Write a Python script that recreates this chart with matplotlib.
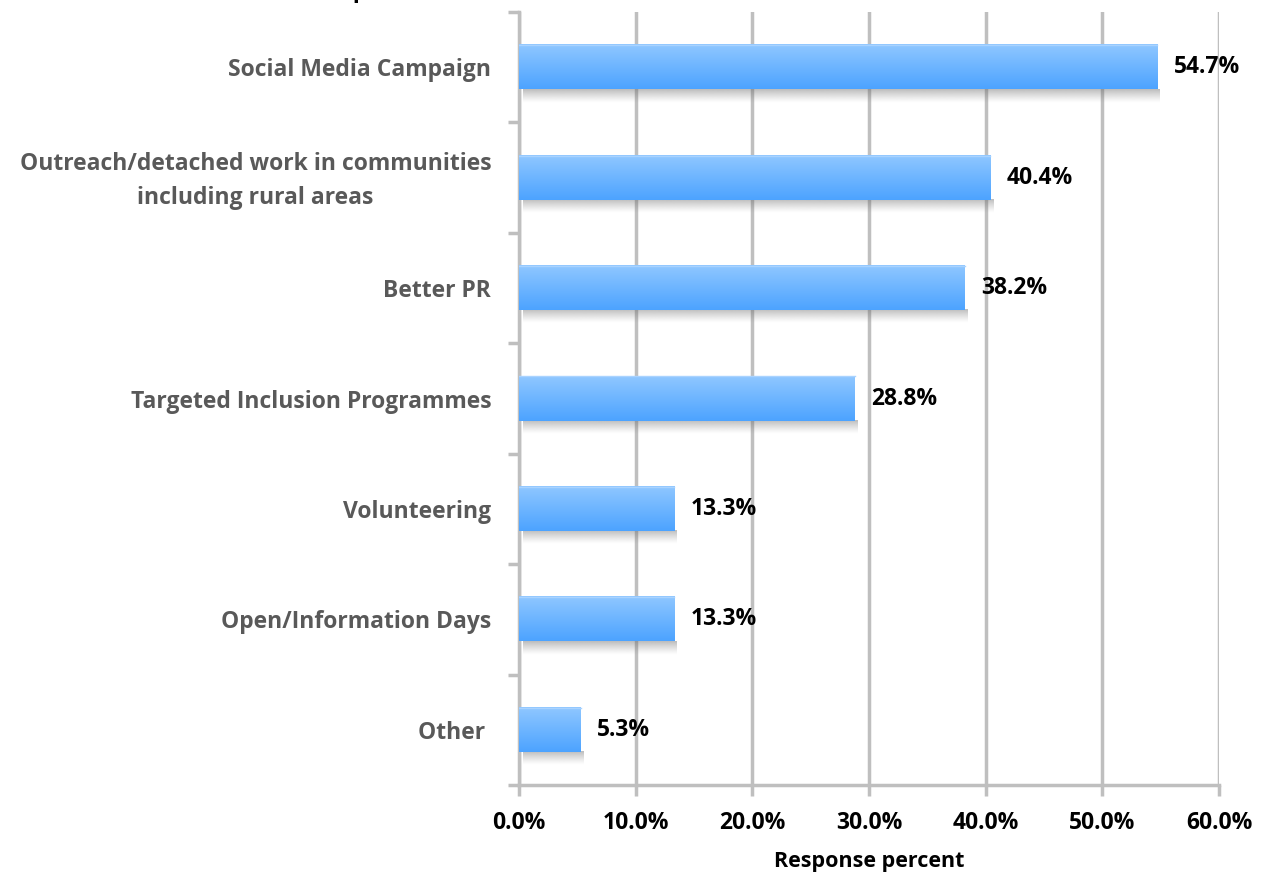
import numpy as np
import matplotlib
matplotlib.use('Agg')
import matplotlib.pyplot as plt
import matplotlib.transforms as mtransforms
from matplotlib.ticker import FixedLocator, NullFormatter

plt.rcParams['font.family'] = ['Open Sans', 'DejaVu Sans']

categories = ['Social Media Campaign',
              'Outreach/detached work in communities\nincluding rural areas',
              'Better PR',
              'Targeted Inclusion Programmes',
              'Volunteering',
              'Open/Information Days',
              'Other ']
values = [54.7, 40.4, 38.2, 28.8, 13.3, 13.3, 5.3]
xticks = [0, 10, 20, 30, 40, 50, 60]
xlabel = 'Response percent'
title_part = '(N = 225 responses)'

grey = '#BFBFBF'
bar_h = 0.4

fig = plt.figure(figsize=(12.69, 8.74), dpi=100)
ax = fig.add_axes([0.409, 0.1018, 0.5516, 0.8844])

n = len(categories)
ypos = np.arange(n)[::-1]  # first category at top

# gradient fill for the bars, light at top, darker at bottom
grad = np.linspace(0, 1, 64).reshape(-1, 1)
top_c = np.array([0.56, 0.78, 1.0])
bot_c = np.array([0.30, 0.64, 1.0])
img = bot_c[None, None, :] * (1 - grad[:, :, None]) + top_c[None, None, :] * grad[:, :, None]

# shadow below each bar
sh = np.zeros((32, 1, 4))
sh[:, :, :3] = 0.4
sh[:, 0, 3] = np.linspace(0.0, 0.5, 32) ** 1.2

for y, v in zip(ypos, values):
    ax.imshow(sh, extent=[0.3, v + 0.2, y - bar_h / 2 - 0.12, y - bar_h / 2],
              origin='lower', aspect='auto', zorder=2, interpolation='bilinear')
    ax.imshow(img, extent=[0, v, y - bar_h / 2, y + bar_h / 2],
              origin='lower', aspect='auto', zorder=3, interpolation='bilinear')
    ax.plot([0, v], [y + bar_h / 2, y + bar_h / 2], color='#A9D3FF', lw=1, zorder=4)
    ax.text(v + 1.4, y, f'{v:.1f}%', va='center', ha='left',
            fontsize=16.5, fontweight='bold', color='black')

ax.set_xlim(0, 60)
ax.set_ylim(-0.5, n - 0.5)

ax.xaxis.set_major_locator(FixedLocator(xticks))
ax.set_xticklabels([f'{t:.1f}%' for t in xticks])
ax.grid(axis='x', color=grey, lw=2.5, zorder=0)
ax.set_axisbelow(True)

ax.yaxis.set_major_locator(FixedLocator(np.arange(-0.5, n, 1.0)))
ax.yaxis.set_major_formatter(NullFormatter())
ax.yaxis.set_minor_locator(FixedLocator(np.arange(n)))
ax.set_yticklabels(categories[::-1], minor=True)
ax.tick_params(axis='y', which='minor', length=0, pad=20,
               labelsize=16.5, labelcolor='#595959')
up = mtransforms.ScaledTranslation(0, 5 / 100, fig.dpi_scale_trans)
for lbl in ax.get_yticklabels(minor=True):
    lbl.set_fontweight('bold')
    lbl.set_multialignment('center')
    lbl.set_linespacing(1.55)
    if '\n' in lbl.get_text():
        lbl.set_transform(lbl.get_transform() + up)
ax.tick_params(axis='y', which='major', length=8, width=2.5, color=grey, direction='out')
ax.tick_params(axis='x', length=8, width=2.5, color=grey, direction='out',
               labelsize=16.5, pad=11)
for lbl in ax.get_xticklabels():
    lbl.set_fontweight('bold')

for s in ['top', 'right']:
    ax.spines[s].set_visible(False)
for s in ['left', 'bottom']:
    ax.spines[s].set_color(grey)
    ax.spines[s].set_linewidth(2.5)

ax.set_xlabel(xlabel, fontsize=15.5, fontweight='bold', labelpad=11)

# title sits mostly above the top edge, as in the source image
fig.text(0.26, 1.0 + 3.0 / 874, title_part, ha='center', va='baseline',
         fontsize=17, fontweight='bold', color='black')

fig.savefig('out.png', dpi=100)
